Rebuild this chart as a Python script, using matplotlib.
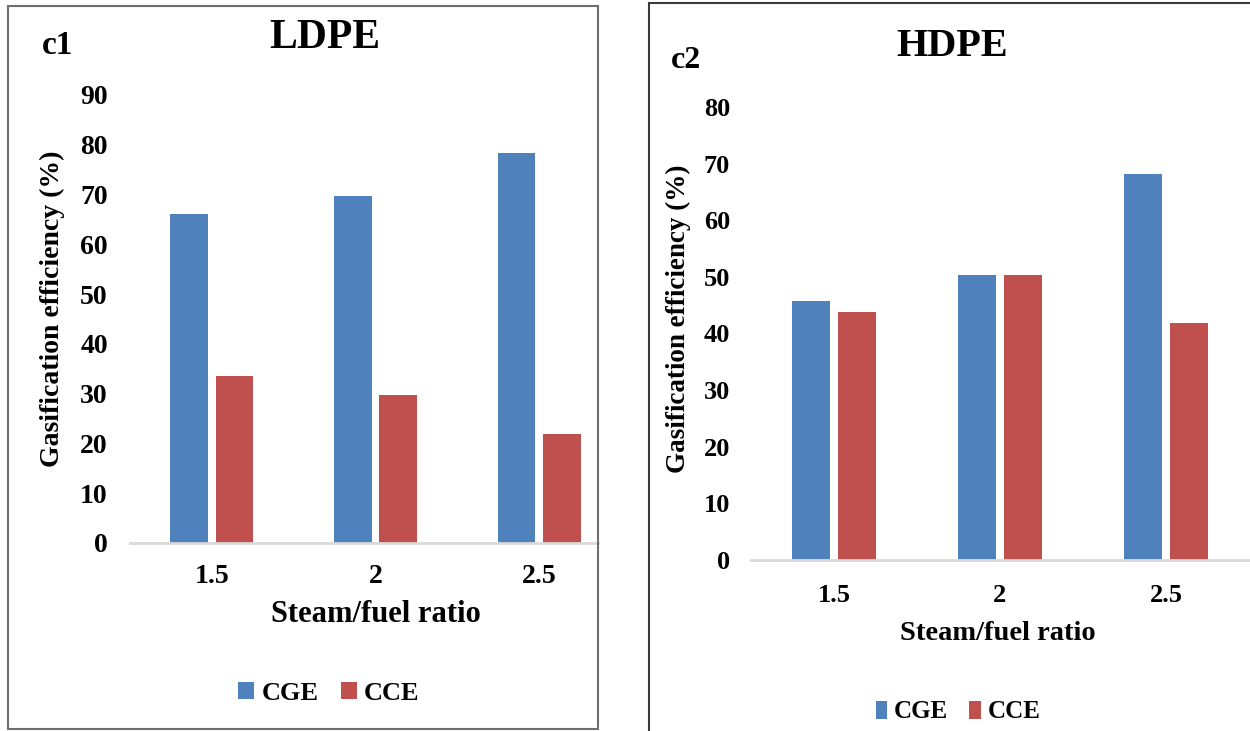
import matplotlib
matplotlib.use("Agg")
import matplotlib.pyplot as plt
from matplotlib.patches import Rectangle
import numpy as np

plt.rcParams['font.family'] = ['Liberation Serif', 'DejaVu Serif']
plt.rcParams['font.weight'] = 'bold'

ratios = ['1.5', '2', '2.5']
series = ['CGE', 'CCE']
ldpe_cge = [66.0, 69.8, 78.3]
ldpe_cce = [33.6, 29.8, 21.9]
hdpe_cge = [45.8, 50.4, 68.2]
hdpe_cce = [43.8, 50.4, 41.9]

BLUE = '#4F81BD'
RED = '#C0504D'

W, H = 1250, 731
fig = plt.figure(figsize=(W / 100, H / 100), dpi=100)


def fx(x):
    return x / W


def fy(y):
    return 1 - y / H


def panel(rect_px, vals, ymax, fs):
    # rect_px = (left, right, y of zero, y of ymax) in pixels
    l, r, y0, y1 = rect_px
    ax = fig.add_axes([fx(l), fy(y0), fx(r) - fx(l), fy(y1) - fy(y0)])
    x = np.arange(len(ratios))
    w = 0.23
    bars = []
    for off, v, c in zip([-0.139, 0.139], vals, [BLUE, RED]):
        bars.append(ax.bar(x + off, v, w, color=c, zorder=2))
    ax.set_ylim(0, ymax)
    ax.set_yticks(range(0, ymax + 1, 10))
    ax.set_xticks(x)
    ax.set_xticklabels(ratios)
    for s in ['top', 'right', 'left']:
        ax.spines[s].set_visible(False)
    ax.spines['bottom'].set_color('#D9D9D9')
    ax.spines['bottom'].set_linewidth(2)
    ax.tick_params(length=0, labelsize=fs['tick'])
    ax.tick_params(axis='y', pad=fs['ypad'])
    ax.tick_params(axis='x', pad=fs['xpad'])
    for t in ax.get_xticklabels() + ax.get_yticklabels():
        t.set_fontweight('bold')
    return ax, bars


# LDPE panel
axL, barsL = panel((130, 598, 543, 95), [ldpe_cge, ldpe_cce], 90,
                   {'tick': 20, 'ypad': 16, 'xpad': 15})
axL.set_xlim(-0.5, 2.36)
axL.set_xlabel('Steam/fuel ratio', fontsize=22, fontweight='bold', va='center')
axL.xaxis.set_label_coords(fx(376), fy(615), transform=fig.transFigure)
axL.set_ylabel('Gasification efficiency (%)', fontsize=20, fontweight='bold', va='center')
axL.yaxis.set_label_coords(fx(52), fy(309), transform=fig.transFigure)
fig.text(fx(325), fy(38), 'LDPE', fontsize=30, fontweight='bold', ha='center', va='center')
fig.text(fx(58), fy(45), 'c1', fontsize=24, fontweight='bold', ha='center', va='center')
axL.legend([b[0] for b in barsL], series, loc='center', ncol=2, frameon=False,
           bbox_to_anchor=(fx(329), fy(693)), bbox_transform=fig.transFigure,
           prop={'size': 19, 'weight': 'bold'}, handlelength=0.6, handleheight=0.6,
           handletextpad=0.27, columnspacing=0.87)

# HDPE panel
axR, barsR = panel((751, 1249, 560, 107), [hdpe_cge, hdpe_cce], 80,
                   {'tick': 19, 'ypad': 15, 'xpad': 17})
axR.set_xlim(-0.5, 2.5)
axR.set_xlabel('Steam/fuel ratio', fontsize=20.5, fontweight='bold', va='center')
axR.xaxis.set_label_coords(fx(998), fy(633), transform=fig.transFigure)
axR.set_ylabel('Gasification efficiency (%)', fontsize=19.5, fontweight='bold', va='center')
axR.yaxis.set_label_coords(fx(678), fy(319), transform=fig.transFigure)
fig.text(fx(952), fy(47), 'HDPE', fontsize=29, fontweight='bold', ha='center', va='center')
fig.text(fx(686), fy(61), 'c2', fontsize=23, fontweight='bold', ha='center', va='center')
axR.legend([b[0] for b in barsR], series, loc='center', ncol=2, frameon=False,
           bbox_to_anchor=(fx(958), fy(712)), bbox_transform=fig.transFigure,
           prop={'size': 18, 'weight': 'bold'}, handlelength=0.45, handleheight=0.7,
           handletextpad=0.28, columnspacing=0.85)

# panel frames
fig.add_artist(Rectangle((fx(8), fy(729)), fx(598) - fx(8), fy(6) - fy(729),
                         transform=fig.transFigure, fill=False, ec='#6E6E6E', lw=1.5))
fig.add_artist(Rectangle((fx(649), fy(760)), fx(1300) - fx(649), fy(3) - fy(760),
                         transform=fig.transFigure, fill=False, ec='#3A3A3A', lw=1.5))

fig.savefig('out.png', dpi=100)
